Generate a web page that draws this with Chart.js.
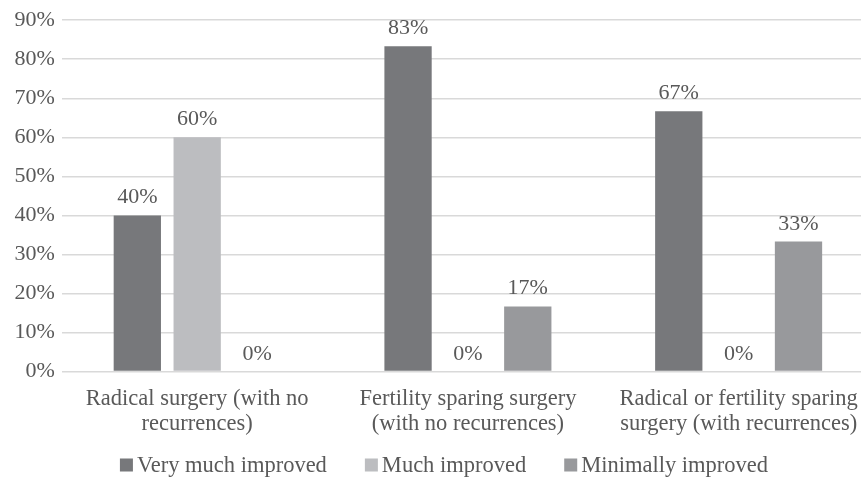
<!DOCTYPE html>
<html>
<head>
<meta charset="utf-8">
<script src="https://cdn.jsdelivr.net/npm/chart.js@4/dist/chart.umd.min.js"></script>
<style>
html,body{margin:0;padding:0;background:#fff;overflow:hidden;}
#wrap{width:889px;height:477px;}
</style>
</head>
<body>
<div id="wrap"><canvas id="c" width="889" height="477"></canvas></div>
<script>
const categories = [
  ["Radical surgery (with no", "recurrences)"],
  ["Fertility sparing surgery", "(with no recurrences)"],
  ["Radical or fertility sparing", "surgery (with recurrences)"]
];
const seriesNames = ["Very much improved", "Much improved", "Minimally improved"];
const veryMuchImproved = [40, 83.3, 66.7];
const muchImproved = [60, 0, 0];
const minimallyImproved = [0, 16.7, 33.3];
const yTicks = [0, 10, 20, 30, 40, 50, 60, 70, 80, 90];

const colors = ["#77787b", "#bcbdc0", "#98999c"];
const textColor = "#595959";
const fontFamily = "'Liberation Serif', 'Times New Roman', serif";
const fontSize = 22;

const labelPlugin = {
  id: "barLabels",
  afterDatasetsDraw(chart) {
    const ctx = chart.ctx;
    ctx.save();
    ctx.font = fontSize + "px " + fontFamily;
    ctx.fillStyle = textColor;
    ctx.textAlign = "center";
    ctx.textBaseline = "alphabetic";
    chart.data.datasets.forEach((ds, i) => {
      const meta = chart.getDatasetMeta(i);
      meta.data.forEach((bar, j) => {
        const v = ds.data[j];
        ctx.fillText(Math.round(v) + "%", bar.x, bar.y - 12);
      });
    });
    ctx.restore();
  }
};

const legendPlugin = {
  id: "customLegend",
  afterDraw(chart) {
    const ctx = chart.ctx;
    ctx.save();
    ctx.font = (fontSize + 0.5) + "px " + fontFamily;
    ctx.textBaseline = "middle";
    ctx.textAlign = "left";
    const box = 13, boxGap = 4, itemGap = 38;
    const items = chart.data.datasets.map(ds => ({
      text: ds.label, color: ds.backgroundColor, w: ctx.measureText(ds.label).width
    }));
    const total = items.reduce((s, it) => s + box + boxGap + it.w, 0) + itemGap * (items.length - 1);
    let x = 444 - total / 2;
    const y = 465;
    items.forEach(it => {
      ctx.fillStyle = it.color;
      ctx.fillRect(x, y - box / 2, box, box);
      ctx.fillStyle = textColor;
      ctx.fillText(it.text, x + box + boxGap, y + 1);
      x += box + boxGap + it.w + itemGap;
    });
    ctx.restore();
  }
};

new Chart(document.getElementById("c"), {
  type: "bar",
  data: {
    labels: categories,
    datasets: [
      { label: seriesNames[0], data: veryMuchImproved, backgroundColor: colors[0] },
      { label: seriesNames[1], data: muchImproved, backgroundColor: colors[1] },
      { label: seriesNames[2], data: minimallyImproved, backgroundColor: colors[2] }
    ]
  },
  options: {
    responsive: false,
    animation: false,
    devicePixelRatio: 1,
    layout: { padding: { left: 7.5, right: 15, top: 14, bottom: 33 } },
    datasets: { bar: { categoryPercentage: 0.6634, barPercentage: 0.79 } },
    scales: {
      x: {
        grid: { display: false },
        border: { display: false },
        ticks: { color: textColor, font: { family: fontFamily, size: fontSize + 0.5, lineHeight: 1.12 }, padding: 7, maxRotation: 0, autoSkip: false }
      },
      y: {
        min: 0, max: 90,
        afterBuildTicks(axis) { axis.ticks = yTicks.map(v => ({ value: v })); },
        grid: { color: "#d9d9d9", lineWidth: 1.5, drawTicks: false },
        border: { display: false },
        ticks: { color: textColor, font: { family: fontFamily, size: fontSize }, padding: 7, callback: v => v + "%" }
      }
    },
    plugins: {
      legend: { display: false },
      tooltip: { enabled: false }
    }
  },
  plugins: [labelPlugin, legendPlugin]
});
</script>
</body>
</html>
